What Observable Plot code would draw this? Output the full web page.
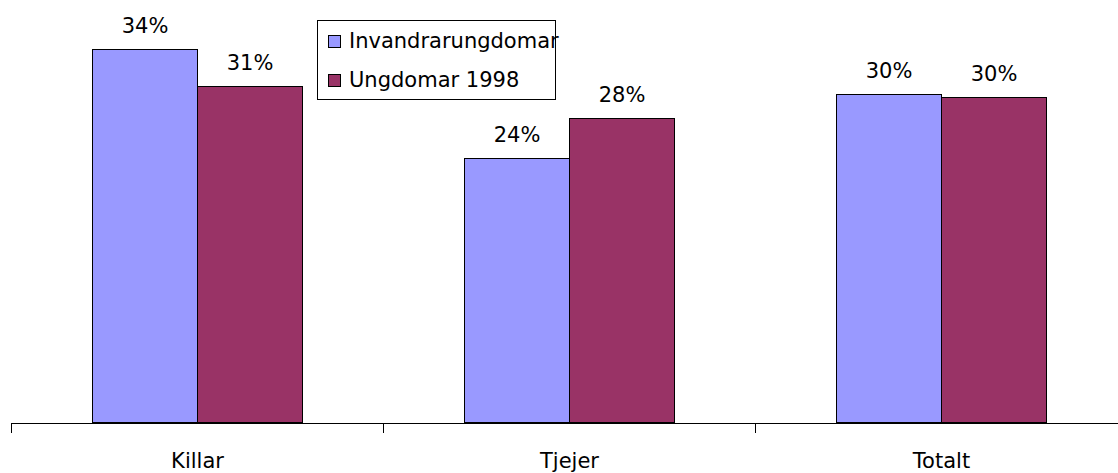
<!DOCTYPE html>
<html>
<head>
<meta charset="utf-8">
<script src="https://cdn.jsdelivr.net/npm/d3@7"></script>
<script src="https://cdn.jsdelivr.net/npm/@observablehq/plot@0.6"></script>
<style>
  html, body { margin: 0; padding: 0; background: #fff; overflow: hidden; }
  #wrap { position: relative; width: 1118px; height: 473px; font-family: "DejaVu Sans", sans-serif; }
  #wrap svg rect, #wrap svg line { shape-rendering: crispEdges; }
  #legend { position: absolute; left: 317px; top: 20px; width: 237px; height: 78px; border: 1px solid #000; background: #fff; }
  .item { position: absolute; left: 10px; display: flex; align-items: center; font-size: 21px; color: #000; white-space: nowrap; }
  .sw { width: 11px; height: 11px; border: 1px solid #000; margin-right: 8px; }
</style>
</head>
<body>
<div id="wrap"><div id="legend"></div></div>
<script>
const categories = ["Killar", "Tjejer", "Totalt"];
const series = ["Invandrarungdomar", "Ungdomar 1998"];
const invandrarungdomar = [34, 24.1, 29.9];
const ungdomar1998 = [30.65, 27.7, 29.7];
const colors = ["#9999ff", "#993366"];

const rows = [];
categories.forEach((c, i) => {
  rows.push({cat: c, ser: series[0], v: invandrarungdomar[i]});
  rows.push({cat: c, ser: series[1], v: ungdomar1998[i]});
});

const fmt = d => Math.round(d.v) + "%";

const boundaryTicks = (index, scales, values, dimensions) => {
  const g = d3.create("svg:g");
  const y0 = scales.y(0);
  g.append("line")
    .attr("x1", dimensions.marginLeft).attr("x2", dimensions.marginLeft)
    .attr("y1", y0).attr("y2", y0 + 10)
    .attr("stroke", "#000").attr("stroke-width", 1);
  return g.node();
};

const chart = Plot.plot({
  width: 1118,
  height: 473,
  marginLeft: 10,
  marginRight: -9.5,
  marginTop: 39,
  marginBottom: 50.5,
  style: {fontFamily: "DejaVu Sans, sans-serif", fontSize: "21px", color: "#000", background: "#fff"},
  facet: {data: rows, x: "cat"},
  fx: {domain: categories, padding: 0, axis: "bottom", tickSize: 0, tickPadding: 30, label: null},
  x: {domain: series, paddingInner: 0, paddingOuter: 0.765, axis: null},
  y: {domain: [0, 35], axis: null},
  color: {domain: series, range: colors},
  marks: [
    Plot.barY(rows, {x: "ser", y: "v", fill: "ser", stroke: "#000", strokeWidth: 1}),
    Plot.text(rows, {x: "ser", y: "v", text: fmt, lineAnchor: "bottom", dy: -17, fontSize: 21, fill: "#000"}),
    Plot.ruleY([0], {stroke: "#000", strokeWidth: 1}),
    boundaryTicks
  ]
});
document.getElementById("wrap").prepend(chart);

const legend = document.getElementById("legend");
const colorScale = chart.scale("color");
series.forEach((s, i) => {
  const item = document.createElement("div");
  item.className = "item";
  item.style.top = (i === 0 ? 8 : 47) + "px";
  const sw = document.createElement("div");
  sw.className = "sw";
  sw.style.background = colorScale.range[colorScale.domain.indexOf(s)];
  const t = document.createElement("span");
  t.textContent = s;
  item.appendChild(sw);
  item.appendChild(t);
  legend.appendChild(item);
});
</script>
</body>
</html>
